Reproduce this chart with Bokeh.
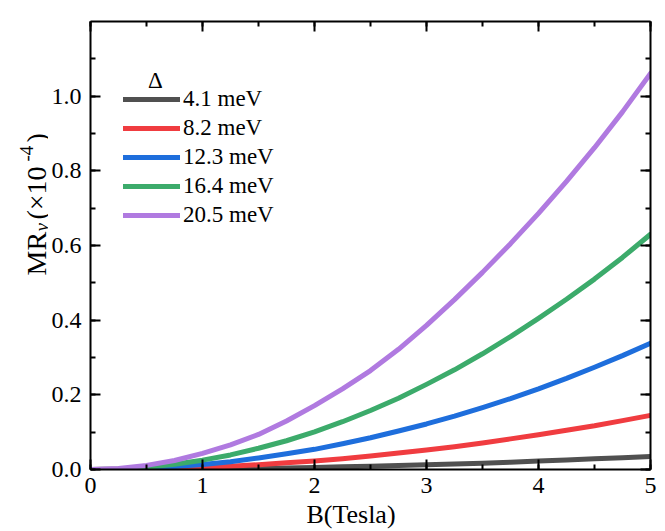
from bokeh.plotting import figure
from bokeh.models import (Range1d, LinearAxis, SingleIntervalTicker, NumeralTickFormatter,
                          Legend, LegendItem, Label)
from bokeh.layouts import row
from bokeh.embed import file_html
from bokeh.resources import INLINE
import math

B = [0, 0.25, 0.5, 0.75, 1, 1.25, 1.5, 1.75, 2, 2.25, 2.5, 2.75, 3, 3.25, 3.5, 3.75, 4, 4.25, 4.5, 4.75, 5]
mr_41 = [0, 0.0001, 0.0003, 0.0008, 0.0014, 0.0022, 0.0031, 0.0043, 0.0056, 0.0071, 0.0087, 0.0105,
         0.0125, 0.0147, 0.017, 0.0197, 0.0225, 0.0255, 0.0286, 0.0318, 0.035]
mr_82 = [0, 0.0004, 0.0015, 0.0033, 0.0058, 0.009, 0.013, 0.018, 0.023, 0.029, 0.036, 0.044,
         0.052, 0.061, 0.071, 0.082, 0.093, 0.105, 0.117, 0.131, 0.145]
mr_123 = [0, 0.0008, 0.0034, 0.0077, 0.0135, 0.021, 0.031, 0.042, 0.054, 0.069, 0.085, 0.103,
          0.122, 0.143, 0.166, 0.19, 0.216, 0.244, 0.274, 0.305, 0.338]
mr_164 = [0, 0.0015, 0.006, 0.014, 0.025, 0.039, 0.057, 0.077, 0.101, 0.128, 0.158, 0.191,
          0.228, 0.267, 0.31, 0.356, 0.405, 0.456, 0.51, 0.568, 0.63]
mr_205 = [0, 0.003, 0.011, 0.024, 0.043, 0.066, 0.094, 0.13, 0.171, 0.216, 0.265, 0.322,
          0.386, 0.455, 0.528, 0.605, 0.686, 0.772, 0.862, 0.958, 1.061]
series_labels = ["4.1 meV", "8.2 meV", "12.3 meV", "16.4 meV", "20.5 meV"]
series_values = [mr_41, mr_82, mr_123, mr_164, mr_205]
colors = ["#505050", "#f03c40", "#1e6edc", "#3cab6b", "#b07ae0"]
x_title = "B(Tesla)"
legend_title = "Δ"

FONT = "'Liberation Serif'"
H = 531

p = figure(width=617, height=H, output_backend="svg", toolbar_location=None,
           x_range=Range1d(0, 5), y_range=Range1d(0, 1.2),
           min_border_left=42, min_border_right=15, min_border_top=21, min_border_bottom=62)
p.outline_line_color = None
p.grid.visible = False
p.background_fill_color = "white"
p.border_fill_color = "white"

def style_axis(ax, show_labels):
    ax.axis_line_width = 2
    ax.axis_line_color = "black"
    ax.major_tick_in = 10
    ax.major_tick_out = 0
    ax.minor_tick_in = 5
    ax.minor_tick_out = 0
    ax.major_tick_line_width = 2
    ax.minor_tick_line_width = 2
    ax.major_tick_line_color = "black"
    ax.minor_tick_line_color = "black"
    ax.major_label_text_font = FONT
    ax.major_label_text_color = "black"
    if show_labels:
        ax.major_label_text_font_size = "24px"
    else:
        ax.major_label_text_font_size = "0px"
        ax.major_label_standoff = 0

p.xaxis.ticker = SingleIntervalTicker(interval=1, num_minor_ticks=2)
p.yaxis.ticker = SingleIntervalTicker(interval=0.2, num_minor_ticks=2)
p.yaxis.formatter = NumeralTickFormatter(format="0.0")
style_axis(p.xaxis[0], True)
style_axis(p.yaxis[0], True)
p.xaxis.major_label_standoff = 8
p.yaxis.major_label_standoff = 9
# trailing no-break spaces shift the centred title left, as in the reference
p.xaxis.axis_label = x_title + "\u00a0" * 6
p.xaxis.axis_label_text_font = FONT
p.xaxis.axis_label_text_font_size = "26px"
p.xaxis.axis_label_text_font_style = "normal"
p.xaxis.axis_label_text_color = "black"
p.xaxis.axis_label_standoff = 4

top_ax = LinearAxis(ticker=SingleIntervalTicker(interval=1, num_minor_ticks=2))
right_ax = LinearAxis(ticker=SingleIntervalTicker(interval=0.2, num_minor_ticks=2))
style_axis(top_ax, False)
style_axis(right_ax, False)
p.add_layout(top_ax, "above")
p.add_layout(right_ax, "right")

items = []
for lab, vals, c in zip(series_labels, series_values, colors):
    r = p.line(B, vals, line_color=c, line_width=5, line_cap="round", line_join="round")
    items.append(LegendItem(label=lab, renderers=[r]))

leg = Legend(items=items, location=(33, 240), padding=0, margin=0,
             border_line_color=None, background_fill_alpha=0,
             glyph_width=57, glyph_height=28, label_height=28, spacing=1,
             label_standoff=3, label_text_font=FONT, label_text_font_size="23px",
             label_text_color="black")
p.add_layout(leg, "center")

p.add_layout(Label(x=0.58, y=1.042, text=legend_title, text_font=FONT, text_font_size="23px",
                   text_align="center", text_baseline="alphabetic", text_color="black"))

# ---------------- y-axis title panel (left) ----------------
# In a row, this panel's frame is aligned with the main frame (page y 21..469),
# so its y range is set in page pixels, flipped.
YW = 48
ylab = figure(width=YW, height=H, output_backend="svg", toolbar_location=None,
              x_axis_type=None, y_axis_type=None,
              x_range=Range1d(0, YW), y_range=Range1d(469, 21),
              min_border=0, min_border_left=0, min_border_right=0,
              min_border_top=0, min_border_bottom=0)
ylab.outline_line_color = None
ylab.grid.visible = False

ylab_parts = [
    ("MR", 36, 275, "28px", "normal"),
    ("y", 41, 231, "19px", "italic"),
    ("(×10", 36, 219, "28px", "normal"),
    ("-4", 26, 161, "19px", "normal"),
    (")", 36, 142, "28px", "normal"),
]
for txt, bx, sy, fs, st in ylab_parts:
    ylab.add_layout(Label(x=bx, y=sy, text=txt, angle=math.pi / 2,
                          text_font=FONT, text_font_size=fs, text_font_style=st,
                          text_align="left", text_baseline="alphabetic", text_color="black"))

layout = row(ylab, p, spacing=0)

open("out.html", "w").write(file_html(layout, INLINE))
